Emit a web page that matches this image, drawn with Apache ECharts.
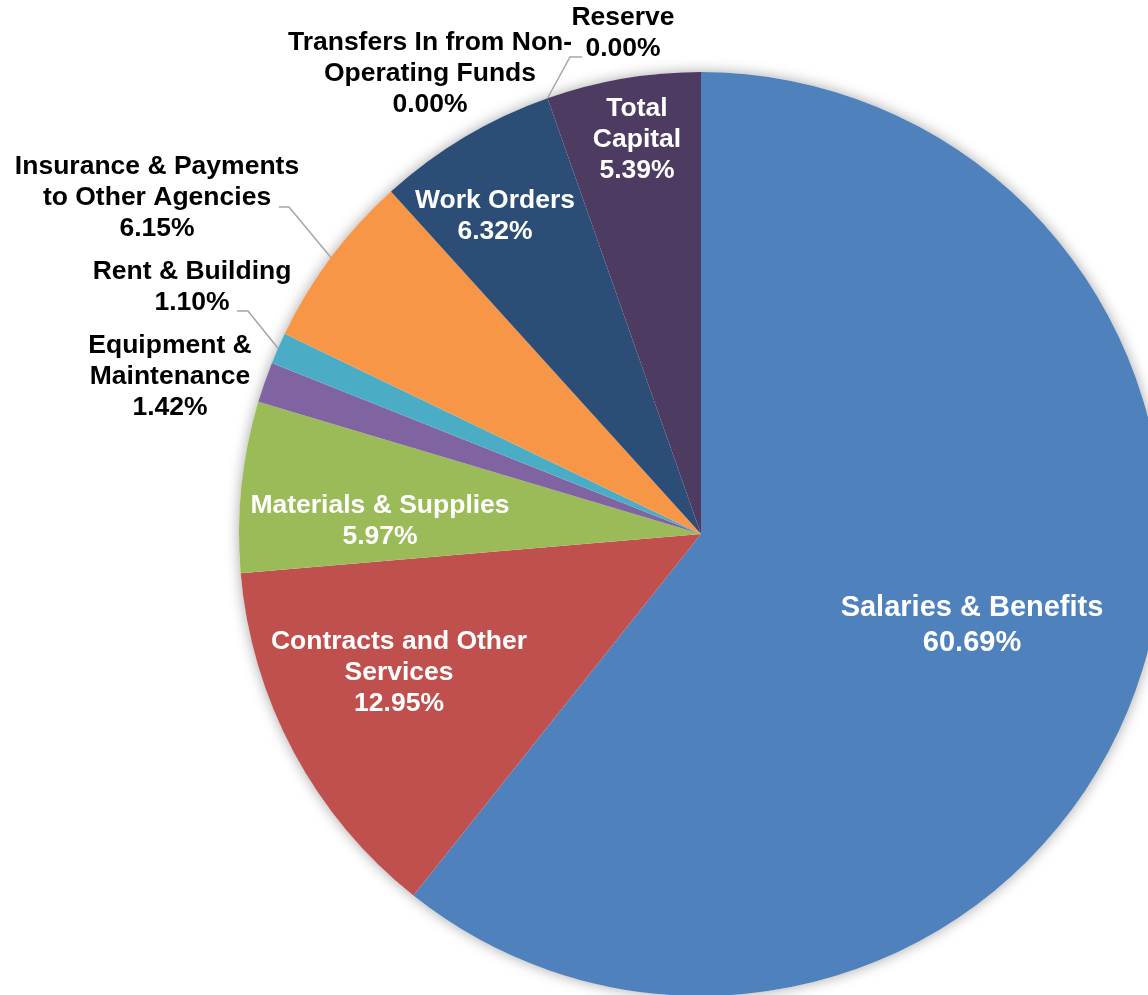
<!DOCTYPE html>
<html>
<head>
<meta charset="utf-8">
<script src="https://cdn.jsdelivr.net/npm/echarts@6/dist/echarts.min.js"></script>
<style>
html,body{margin:0;padding:0;background:#fff;}
#chart{width:1148px;height:995px;}
</style>
</head>
<body>
<div id="chart"></div>
<script>
// ---- data ----
const categories = ['Salaries & Benefits','Contracts and Other Services','Materials & Supplies','Equipment & Maintenance','Rent & Building','Insurance & Payments to Other Agencies','Work Orders','Transfers In from Non-Operating Funds','Reserve','Total Capital'];
const labelNames = ['Salaries & Benefits','Contracts and Other\nServices','Materials & Supplies','Equipment &\nMaintenance','Rent & Building','Insurance & Payments\nto Other Agencies','Work Orders','Transfers In from Non-\nOperating Funds','Reserve','Total\nCapital'];
const values = [60.69, 12.95, 5.97, 1.42, 1.10, 6.15, 6.32, 0.00, 0.00, 5.39];
const colors = ['#4F81BD','#C0504D','#9BBB59','#8064A2','#4BACC6','#F79646','#2C4D75','#772C2A','#5F7530','#4D3B62'];
const insideLabel = [true, true, true, false, false, false, true, false, false, true];

// ---- layout ----
const CX = 701, CY = 534, R = 462;
const labelPos = [[972,625],[399,673],[380,521],[170,377],[192,287],[157,198],[495,216],[430,74],[623,33],[637,140]];
const labelSize = {0: [29, 35]};
const leaderStart = {4: [[237,311],[248,311]], 5: [[279,207],[289,207]], 8: [[582,57],[570,57]]};

const total = values.reduce((a,b)=>a+b,0);
function edgePoint(i){
  let cum = 0;
  for (let k=0;k<i;k++) cum += values[k];
  const mid = cum + values[i]/2;
  const th = mid/total*2*Math.PI;
  return [CX + R*Math.sin(th), CY - R*Math.cos(th)];
}

const font = "'Liberation Sans', Arial, sans-serif";
const data = values.map((v,i)=>{
  const lab = {
    show: true,
    position: insideLabel[i] ? 'inside' : 'outside',
    color: insideLabel[i] ? '#ffffff' : '#000000',
    formatter: labelNames[i] + '\n' + v.toFixed(2) + '%'
  };
  if (labelSize[i]) { lab.fontSize = labelSize[i][0]; lab.lineHeight = labelSize[i][1]; }
  return {
    name: categories[i],
    value: v,
    itemStyle: {color: colors[i]},
    label: lab,
    labelLine: {show: !insideLabel[i] && !!leaderStart[i]}
  };
});

const chart = echarts.init(document.getElementById('chart'), null, {renderer:'canvas'});
chart.setOption({
  backgroundColor: '#ffffff',
  animation: false,
  series: [
    {
      type: 'pie', silent: true, z: 1,
      center: [CX, CY], radius: R,
      label: {show:false}, labelLine:{show:false},
      itemStyle: {color:'#ffffff', shadowBlur: 14, shadowColor:'rgba(0,0,0,0.35)'},
      data: [{value: 1, name: ''}]
    },
    {
      type: 'pie', z: 2,
      center: [CX, CY], radius: R,
      startAngle: 90, clockwise: true,
      avoidLabelOverlap: false,
      minShowLabelAngle: 0,
      label: {
        fontFamily: font, fontWeight: 'bold', fontSize: 26.5, lineHeight: 31, align: 'center'
      },
      labelLine: {lineStyle: {color:'#A6A6A6', width: 1.5}},
      itemStyle: {borderWidth: 0},
      emphasis: {disabled: true},
      labelLayout: function(p){
        const i = p.dataIndex;
        const out = {x: labelPos[i][0], y: labelPos[i][1], align:'center', verticalAlign:'middle'};
        if (leaderStart[i]) {
          out.labelLinePoints = [edgePoint(i), leaderStart[i][1], leaderStart[i][0]];
        }
        return out;
      },
      data: data
    }
  ]
});
</script>
</body>
</html>
